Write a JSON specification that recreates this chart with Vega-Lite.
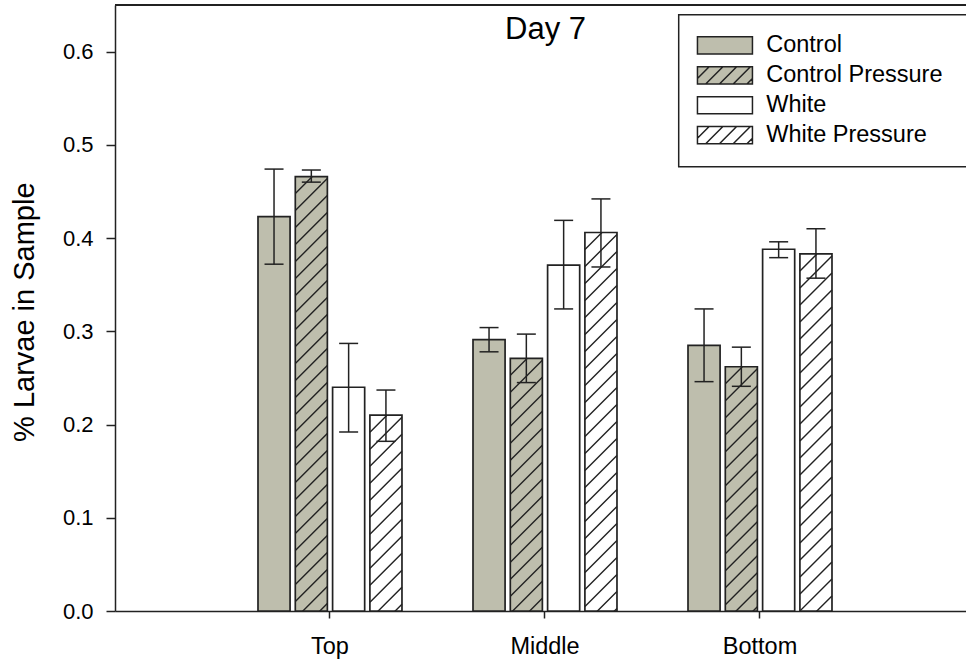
{
  "$schema": "https://vega.github.io/schema/vega-lite/v6.json",
  "width": 851,
  "height": 606,
  "autosize": {"type": "none"},
  "padding": {"left": 115, "top": 5, "right": 0, "bottom": 48},
  "background": "white",
  "data": {"values": [
    {"pos": "Top", "series": "Control", "value": 0.423, "lo": 0.372, "hi": 0.474},
    {"pos": "Top", "series": "Control Pressure", "value": 0.466, "lo": 0.460, "hi": 0.473},
    {"pos": "Top", "series": "White", "value": 0.240, "lo": 0.192, "hi": 0.287},
    {"pos": "Top", "series": "White Pressure", "value": 0.210, "lo": 0.182, "hi": 0.237},
    {"pos": "Middle", "series": "Control", "value": 0.291, "lo": 0.278, "hi": 0.304},
    {"pos": "Middle", "series": "Control Pressure", "value": 0.271, "lo": 0.245, "hi": 0.297},
    {"pos": "Middle", "series": "White", "value": 0.371, "lo": 0.324, "hi": 0.419},
    {"pos": "Middle", "series": "White Pressure", "value": 0.406, "lo": 0.369, "hi": 0.442},
    {"pos": "Bottom", "series": "Control", "value": 0.285, "lo": 0.246, "hi": 0.324},
    {"pos": "Bottom", "series": "Control Pressure", "value": 0.262, "lo": 0.241, "hi": 0.283},
    {"pos": "Bottom", "series": "White", "value": 0.388, "lo": 0.379, "hi": 0.396},
    {"pos": "Bottom", "series": "White Pressure", "value": 0.383, "lo": 0.357, "hi": 0.410}
  ]},
  "layer": [
    {
      "encoding": {
        "x": {"field": "pos", "type": "nominal", "sort": ["Top", "Middle", "Bottom"],
          "scale": {"paddingInner": 0, "paddingOuter": 0.479, "align": 0.5218},
          "axis": {"title": null, "labelAngle": 0, "labelFontSize": 23.5, "labelFont": "Liberation Sans", "labelColor": "black", "labelPadding": 16, "tickSize": 7, "tickWidth": 1.5, "tickColor": "#222", "domainColor": "#222", "domainWidth": 1.5, "grid": false}},
        "xOffset": {"field": "series", "type": "nominal", "sort": ["Control", "Control Pressure", "White", "White Pressure"],
          "scale": {"paddingInner": 0.14, "paddingOuter": 0.952}}
      },
      "layer": [
        {
          "mark": {"type": "bar", "stroke": "#222", "strokeWidth": 1.7},
          "encoding": {
            "y": {"field": "value", "type": "quantitative",
              "scale": {"domain": [0, 0.65], "nice": false, "zero": true},
              "axis": {"title": "% Larvae in Sample", "values": [0, 0.1, 0.2, 0.3, 0.4, 0.5, 0.6], "format": ".1f", "labelFontSize": 22, "labelFont": "Liberation Sans", "labelColor": "black", "labelPadding": 13, "tickSize": 9, "tickWidth": 1.5, "tickColor": "#222", "domainColor": "#222", "domainWidth": 1.5, "grid": false, "titleFontSize": 29, "titleFont": "Liberation Sans", "titleFontWeight": "normal", "titleColor": "black", "titleX": -91, "titleY": 306.7, "titleBaseline": "middle", "titleAngle": -90}},
            "fill": {"field": "series", "type": "nominal",
              "scale": {"domain": ["Control", "Control Pressure", "White", "White Pressure"], "range": ["#bebead", "#bebead", "#ffffff", "#ffffff"]},
              "legend": {"title": "\u00a0", "encode": {"symbols": {"update": {"stroke": {"value": "#222"}, "strokeWidth": {"value": 1.5}}}}}}
          }
        },
        {
          "transform": [{"filter": {"field": "series", "oneOf": ["Control Pressure", "White Pressure"]}}],
          "mark": {"type": "point", "shape": "M-16,17L1,0M-16,34L16,2M-16,51L16,19M-16,68L16,36M-16,85L16,53M-16,102L16,70M-16,119L16,87M-16,136L16,104M-16,153L16,121M-16,170L16,138M-16,187L16,155M-16,204L16,172M-16,221L16,189M-16,238L16,206M-16,255L16,223M-16,272L16,240M-16,289L16,257M-16,306L16,274M-16,323L16,291M-16,340L16,308M-16,357L16,325M-16,374L16,342M-16,391L16,359M-16,408L16,376M-16,425L16,393M-16,442L16,410M-16,459L16,427M-16,476L16,444", "size": 4, "filled": false, "stroke": "#222", "strokeWidth": 1.4, "opacity": 1, "clip": true},
          "encoding": {
            "y": {"field": "value", "type": "quantitative"}
          }
        },
        {
          "mark": {"type": "rule", "stroke": "#222", "strokeWidth": 1.5},
          "encoding": {
            "y": {"field": "lo", "type": "quantitative"},
            "y2": {"field": "hi"}
          }
        },
        {
          "mark": {"type": "tick", "color": "#222", "size": 19, "thickness": 1.5, "opacity": 1},
          "encoding": {
            "y": {"field": "hi", "type": "quantitative"}
          }
        },
        {
          "mark": {"type": "tick", "color": "#222", "size": 19, "thickness": 1.5, "opacity": 1},
          "encoding": {
            "y": {"field": "lo", "type": "quantitative"}
          }
        },
        {
          "mark": {"type": "point", "filled": true, "opacity": 0, "size": 4},
          "encoding": {
            "y": {"field": "value", "type": "quantitative"},
            "fill": {"field": "series", "type": "nominal",
              "scale": {"domain": ["Control", "Control Pressure", "White", "White Pressure"], "range": ["#bebead", "#bebead", "#ffffff", "#ffffff"]},
              "legend": {"title": "\u00a0", "encode": {"symbols": {"update": {"stroke": {"value": "#222"}, "strokeWidth": {"value": 1.5}}}}}},
            "shape": {"field": "series", "type": "nominal",
              "scale": {"domain": ["Control", "Control Pressure", "White", "White Pressure"],
                "range": [
                  "M-12,-8.6H43V8.6H-12Z",
                  "M-12,-8.6H43V8.6H-12Z M-12,3.1L-0.3,-8.6 M-3.75,8.6L13.45,-8.6 M10,8.6L27.2,-8.6 M23.75,8.6L40.95,-8.6 M37.5,8.6L43,3.1",
                  "M-12,-8.6H43V8.6H-12Z",
                  "M-12,-8.6H43V8.6H-12Z M-12,3.1L-0.3,-8.6 M-3.75,8.6L13.45,-8.6 M10,8.6L27.2,-8.6 M23.75,8.6L40.95,-8.6 M37.5,8.6L43,3.1"
                ]},
              "legend": {"title": "\u00a0", "encode": {"symbols": {"update": {"stroke": {"value": "#222"}, "strokeWidth": {"value": 1.5}}}}}}
          }
        }
      ]
    },
    {
      "mark": {"type": "rule", "stroke": "#222", "strokeWidth": 1.5},
      "encoding": {
        "y": {"datum": 0.65, "type": "quantitative"}
      }
    },
    {
      "data": {"values": [{"label": "Day 7"}]},
      "mark": {"type": "text", "fontSize": 31, "font": "Liberation Sans", "fontWeight": "normal", "color": "black", "align": "center", "baseline": "alphabetic", "dx": 0.5},
      "encoding": {
        "text": {"field": "label"},
        "x": {"datum": "Middle", "type": "nominal"},
        "y": {"datum": 0.6132, "type": "quantitative"}
      }
    }
  ],
  "config": {
    "view": {"stroke": null},
    "font": "Liberation Sans",
    "legend": {
      "orient": "none",
      "legendX": 563.7,
      "legendY": 9.7,
      "padding": 19,
      "titleOrient": "right",
      "titlePadding": 8,
      "titleFontSize": 10,
      "symbolSize": 4,
      "symbolStrokeColor": "#222",
      "symbolStrokeWidth": 1.5,
      "symbolOpacity": 1,
      "labelOffset": 45,
      "labelFontSize": 23.5,
      "labelFont": "Liberation Sans",
      "labelColor": "black",
      "labelLimit": 400,
      "rowPadding": 4.9,
      "strokeColor": "#222",
      "strokeWidth": 1.5,
      "fillColor": "white"
    }
  }
}
